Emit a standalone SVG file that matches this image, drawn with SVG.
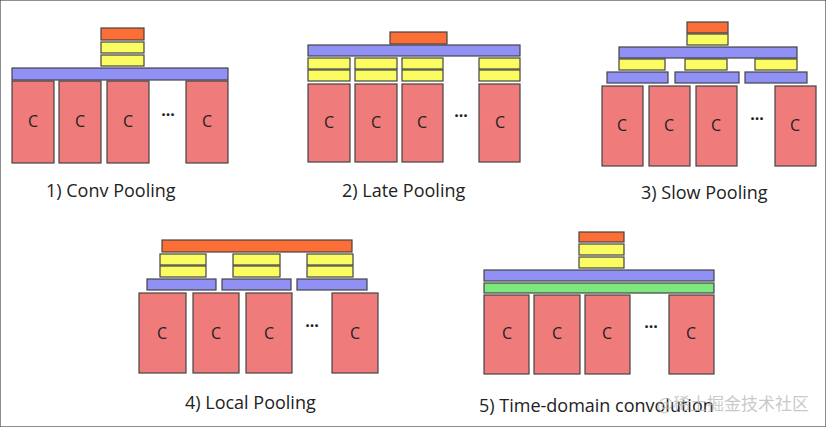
<svg xmlns="http://www.w3.org/2000/svg" width="826" height="427" viewBox="0 0 826 427">
<style>
rect{stroke:#444;stroke-width:1.2}
.c{fill:#ef7b7b}.b{fill:#9090f5}.y{fill:#fbfb62}.o{fill:#fb6e36}.g{fill:#7ee87e}
text{font-family:"Open Sans","DejaVu Sans",sans-serif;fill:#222}
.cl{font-size:16px;text-anchor:middle}
.lb{font-size:18px}
.d{font-size:16px;text-anchor:middle;font-weight:bold}
</style>
<rect width="826" height="427" fill="#fff" stroke="none"/>
<g id="p1">
<rect class="o" x="101" y="28" width="43" height="12"/>
<rect class="y" x="101" y="42" width="43" height="11"/>
<rect class="y" x="101" y="55" width="43" height="11"/>
<rect class="b" x="12" y="68" width="216" height="12"/>
<rect class="c" x="12" y="81" width="42" height="82"/>
<rect class="c" x="59" y="81" width="42" height="82"/>
<rect class="c" x="107" y="81" width="42" height="82"/>
<rect class="c" x="186" y="81" width="42" height="82"/>
<text class="cl" x="33" y="127">C</text><text class="cl" x="80" y="127">C</text><text class="cl" x="128" y="127">C</text><text class="cl" x="207" y="127">C</text>
<text class="d" x="168" y="116">...</text>
<text class="lb" x="46" y="197">1) Conv Pooling</text>
</g>
<g id="p2">
<rect class="o" x="390" y="32" width="57" height="12"/>
<rect class="b" x="308" y="45" width="212" height="11"/>
<rect class="y" x="308" y="58" width="42" height="11"/><rect class="y" x="308" y="70" width="42" height="11"/>
<rect class="y" x="355" y="58" width="42" height="11"/><rect class="y" x="355" y="70" width="42" height="11"/>
<rect class="y" x="402" y="58" width="41" height="11"/><rect class="y" x="402" y="70" width="41" height="11"/>
<rect class="y" x="479" y="58" width="41" height="11"/><rect class="y" x="479" y="70" width="41" height="11"/>
<rect class="c" x="308" y="84" width="42" height="78"/>
<rect class="c" x="355" y="84" width="42" height="78"/>
<rect class="c" x="402" y="84" width="41" height="78"/>
<rect class="c" x="479" y="84" width="41" height="78"/>
<text class="cl" x="329" y="128">C</text><text class="cl" x="376" y="128">C</text><text class="cl" x="422" y="128">C</text><text class="cl" x="500" y="128">C</text>
<text class="d" x="461" y="117">...</text>
<text class="lb" x="342" y="197">2) Late Pooling</text>
</g>
<g id="p3">
<rect class="o" x="687" y="22" width="41" height="11"/>
<rect class="y" x="687" y="34" width="41" height="11"/>
<rect class="b" x="619" y="47" width="178" height="11"/>
<rect class="y" x="619" y="59" width="46" height="11"/>
<rect class="y" x="685" y="59" width="42" height="11"/>
<rect class="y" x="755" y="59" width="42" height="11"/>
<rect class="b" x="607" y="72" width="61" height="11"/>
<rect class="b" x="675" y="72" width="64" height="11"/>
<rect class="b" x="745" y="72" width="62" height="11"/>
<rect class="c" x="602" y="86" width="41" height="80"/>
<rect class="c" x="649" y="86" width="41" height="80"/>
<rect class="c" x="696" y="86" width="41" height="80"/>
<rect class="c" x="775" y="86" width="41" height="80"/>
<text class="cl" x="622" y="131">C</text><text class="cl" x="669" y="131">C</text><text class="cl" x="716" y="131">C</text><text class="cl" x="795" y="131">C</text>
<text class="d" x="757" y="120">...</text>
<text class="lb" x="641" y="199">3) Slow Pooling</text>
</g>
<g id="p4">
<rect class="o" x="162" y="240" width="190" height="12"/>
<rect class="y" x="160" y="254" width="46" height="11"/><rect class="y" x="160" y="266" width="46" height="11"/>
<rect class="y" x="233" y="254" width="47" height="11"/><rect class="y" x="233" y="266" width="47" height="11"/>
<rect class="y" x="307" y="254" width="46" height="11"/><rect class="y" x="307" y="266" width="46" height="11"/>
<rect class="b" x="147" y="279" width="69" height="11"/>
<rect class="b" x="222" y="279" width="69" height="11"/>
<rect class="b" x="297" y="279" width="70" height="11"/>
<rect class="c" x="139" y="293" width="47" height="80"/>
<rect class="c" x="193" y="293" width="46" height="80"/>
<rect class="c" x="246" y="293" width="46" height="80"/>
<rect class="c" x="332" y="293" width="46" height="80"/>
<text class="cl" x="162" y="339">C</text><text class="cl" x="216" y="339">C</text><text class="cl" x="269" y="339">C</text><text class="cl" x="355" y="339">C</text>
<text class="d" x="312" y="327">...</text>
<text class="lb" x="185" y="409">4) Local Pooling</text>
</g>
<g id="p5">
<rect class="o" x="579" y="232" width="45" height="10"/>
<rect class="y" x="579" y="244" width="45" height="11"/>
<rect class="y" x="579" y="257" width="45" height="11"/>
<rect class="b" x="484" y="270" width="230" height="11"/>
<rect class="g" x="484" y="283" width="230" height="10"/>
<rect class="c" x="484" y="295" width="45" height="79"/>
<rect class="c" x="534" y="295" width="46" height="79"/>
<rect class="c" x="585" y="295" width="45" height="79"/>
<rect class="c" x="669" y="295" width="45" height="79"/>
<text class="cl" x="507" y="339">C</text><text class="cl" x="557" y="339">C</text><text class="cl" x="607" y="339">C</text><text class="cl" x="691" y="339">C</text>
<text class="d" x="651" y="328">...</text>
<text class="lb" x="479" y="412">5) Time-domain convolution</text>
<text x="657" y="410" style="font-family:'Noto Sans CJK SC',sans-serif;font-size:17px;fill:#bbb;fill-opacity:0.8">@稀土掘金技术社区</text>
</g>
</svg>
